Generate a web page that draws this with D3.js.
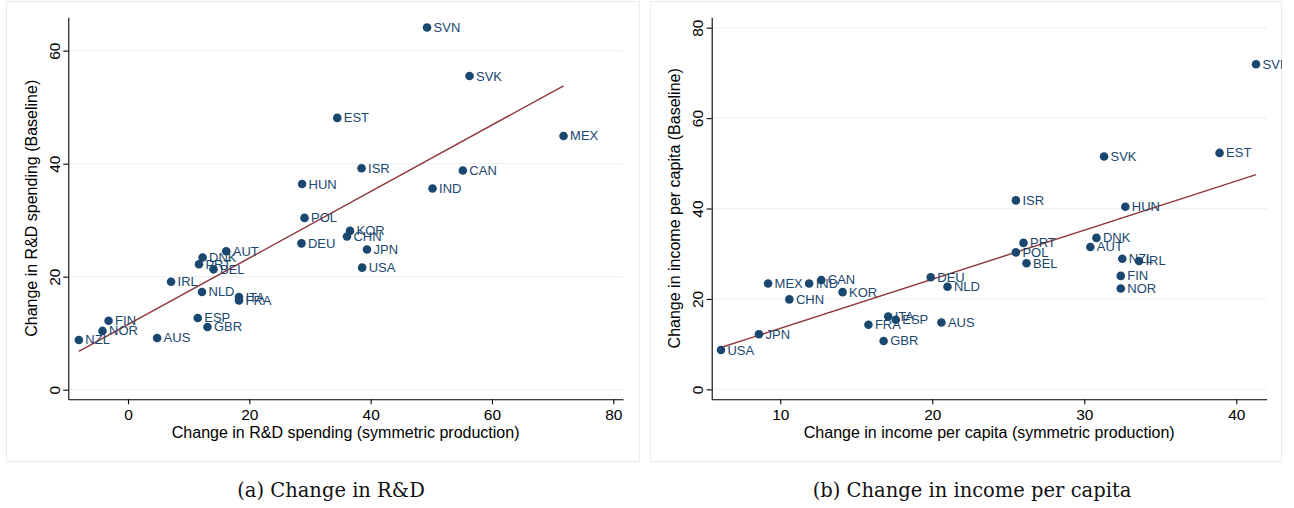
<!DOCTYPE html>
<html>
<head>
<meta charset="utf-8">
<script src="https://cdn.jsdelivr.net/npm/d3@7"></script>
<style>
  html, body { margin: 0; padding: 0; background: #fff; }
  svg { display: block; }
</style>
</head>
<body>
<svg id="chart" width="1294" height="508"></svg>
<script>
// Country codes shared by both panels
const countriesRD = ["SVN","SVK","EST","MEX","ISR","CAN","IND","HUN","POL","DEU","KOR","CHN","JPN","USA",
  "AUT","DNK","PRT","BEL","IRL","NLD","ITA","FRA","ESP","GBR","FIN","NOR","NZL","AUS"];
// Panel (a): change in R&D spending
const rdSymmetric = [49.3,56.3,34.5,71.8,38.5,55.2,50.2,28.7,29.1,28.6,36.6,36.1,39.4,38.6,
  16.2,12.3,11.7,14.1,7.1,12.2,18.3,18.3,11.5,13.1,-3.2,-4.2,-8.1,4.8];
const rdBaseline = [64.1,55.5,48.1,44.9,39.2,38.8,35.6,36.4,30.4,25.9,28.1,27.1,24.8,21.6,
  24.5,23.4,22.2,21.3,19.1,17.3,16.4,15.8,12.7,11.1,12.2,10.4,8.8,9.15];
const rdXTicks = [0, 20, 40, 60, 80];
const rdYTicks = [0, 20, 40, 60];

// Panel (b): change in income per capita
const countriesInc = ["SVN","SVK","EST","ISR","HUN","DNK","AUT","PRT","POL","BEL","NZL","IRL","FIN","NOR",
  "DEU","NLD","AUS","ITA","ESP","FRA","GBR","MEX","IND","CAN","KOR","CHN","JPN","USA"];
const incSymmetric = [41.3,31.3,38.9,25.5,32.7,30.8,30.4,26.0,25.5,26.2,32.5,33.6,32.4,32.4,
  19.9,21.0,20.6,17.1,17.6,15.8,16.8,9.2,11.9,12.7,14.1,10.6,8.6,6.1];
const incBaseline = [71.9,51.5,52.3,41.8,40.4,33.5,31.5,32.4,30.3,27.9,28.9,28.4,25.1,22.3,
  24.8,22.7,14.8,16.1,15.4,14.3,10.7,23.4,23.4,24.2,21.5,19.9,12.2,8.7];
const incXTicks = [10, 20, 30, 40];
const incYTicks = [0, 20, 40, 60, 80];

const NAVY = "#1a476f", MAROON = "#90353b";
const SANS = "Liberation Sans, Arial, sans-serif";
const svg = d3.select("#chart");

// Ordinary least squares fit, drawn across the range of the data
function ols(xs, ys) {
  const mx = d3.mean(xs), my = d3.mean(ys);
  let sxy = 0, sxx = 0;
  xs.forEach((x, i) => { sxy += (x - mx) * (ys[i] - my); sxx += (x - mx) ** 2; });
  const b = sxy / sxx;
  return { a: my - b * mx, b };
}

function panel(cfg) {
  const g = svg.append("g");
  const clipId = "clip-" + cfg.id;
  svg.append("defs").append("clipPath").attr("id", clipId)
    .append("rect").attr("x", cfg.box[0]).attr("y", cfg.box[1])
    .attr("width", cfg.box[2] - cfg.box[0]).attr("height", cfg.box[3] - cfg.box[1]);

  // outer graph region frame
  g.append("rect")
    .attr("x", cfg.box[0] + 0.5).attr("y", cfg.box[1] + 0.5)
    .attr("width", cfg.box[2] - cfg.box[0] - 1).attr("height", cfg.box[3] - cfg.box[1] - 1)
    .attr("fill", "#fff").attr("stroke", "#e6eef0").attr("stroke-width", 1.2);

  const x = d3.scaleLinear().domain(cfg.xDomain).range([cfg.plot[0], cfg.plot[2]]);
  const y = d3.scaleLinear().domain(cfg.yDomain).range([cfg.plot[3], cfg.plot[1]]);

  // horizontal grid lines
  g.append("g").selectAll("line").data(cfg.yTicks).join("line")
    .attr("x1", cfg.plot[0]).attr("x2", cfg.plot[2])
    .attr("y1", d => y(d)).attr("y2", d => y(d))
    .attr("stroke", "#eaf2f3").attr("stroke-width", 1.2);

  // axes
  const xAxis = g.append("g").attr("transform", `translate(0,${cfg.plot[3]})`)
    .call(d3.axisBottom(x).tickValues(cfg.xTicks).tickSize(5).tickPadding(5).tickSizeOuter(0));
  const yAxis = g.append("g").attr("transform", `translate(${cfg.plot[0]},0)`)
    .call(d3.axisLeft(y).tickValues(cfg.yTicks).tickSize(5).tickPadding(5).tickSizeOuter(0));
  [xAxis, yAxis].forEach(a => {
    a.select(".domain").attr("stroke", "#000").attr("stroke-width", 1.1);
    a.selectAll(".tick line").attr("stroke", "#000").attr("stroke-width", 1.1);
    a.selectAll(".tick text").attr("font-family", SANS)
      .attr("font-size", 15.5).attr("fill", "#000");
  });
  // vertical y tick labels
  yAxis.selectAll(".tick text")
    .attr("text-anchor", "middle").attr("x", null).attr("dy", null)
    .attr("transform", "translate(-14,0) rotate(-90)").attr("y", 0)
    .attr("dominant-baseline", "central");

  // axis titles
  g.append("text")
    .attr("x", (cfg.plot[0] + cfg.plot[2]) / 2).attr("y", cfg.plot[3] + 39)
    .attr("text-anchor", "middle")
    .attr("font-family", SANS).attr("font-size", 16)
    .attr("fill", "#000").text(cfg.xTitle);
  g.append("text")
    .attr("transform", `translate(${cfg.plot[0] - 30},${(cfg.plot[1] + cfg.plot[3]) / 2}) rotate(-90)`)
    .attr("text-anchor", "middle").attr("dy", "-0.1em")
    .attr("font-family", SANS).attr("font-size", 16)
    .attr("fill", "#000").text(cfg.yTitle);

  // linear fit
  const fit = ols(cfg.xs, cfg.ys);
  const [x0, x1] = d3.extent(cfg.xs);
  g.append("line")
    .attr("x1", x(x0)).attr("y1", y(fit.a + fit.b * x0))
    .attr("x2", x(x1)).attr("y2", y(fit.a + fit.b * x1))
    .attr("stroke", MAROON).attr("stroke-width", 1.4);

  // points and labels
  const pts = cfg.names.map((n, i) => ({ n, x: cfg.xs[i], y: cfg.ys[i] }));
  g.append("g").selectAll("circle").data(pts).join("circle")
    .attr("cx", d => x(d.x)).attr("cy", d => y(d.y)).attr("r", 4.3).attr("fill", NAVY);
  g.append("g").attr("clip-path", `url(#${clipId})`)
    .selectAll("text").data(pts).join("text")
    .attr("x", d => x(d.x) + 6.5).attr("y", d => y(d.y))
    .attr("dominant-baseline", "central")
    .attr("font-family", SANS).attr("font-size", 13)
    .attr("fill", NAVY).text(d => d.n);

  // caption
  svg.append("text")
    .attr("x", cfg.captionX).attr("y", 497)
    .attr("text-anchor", "middle")
    .attr("font-family", "DejaVu Serif, Liberation Serif, serif").attr("font-size", 19.5)
    .attr("fill", "#111").text(cfg.caption);
}

panel({
  id: "rd", box: [6, 1, 640, 462], plot: [68.3, 17.3, 623, 399.3],
  xDomain: [-9.84, 81.6], yDomain: [-1.7, 65.9],
  xTicks: rdXTicks, yTicks: rdYTicks,
  names: countriesRD, xs: rdSymmetric, ys: rdBaseline,
  xTitle: "Change in R&D spending (symmetric production)",
  yTitle: "Change in R&D spending (Baseline)",
  caption: "(a) Change in R&D", captionX: 331
});
panel({
  id: "inc", box: [650, 1, 1282, 462], plot: [711.7, 17.3, 1266.7, 399.3],
  xDomain: [5.49, 42.0], yDomain: [-2.2, 82.3],
  xTicks: incXTicks, yTicks: incYTicks,
  names: countriesInc, xs: incSymmetric, ys: incBaseline,
  xTitle: "Change in income per capita (symmetric production)",
  yTitle: "Change in income per capita (Baseline)",
  caption: "(b) Change in income per capita", captionX: 972
});
</script>
</body>
</html>
